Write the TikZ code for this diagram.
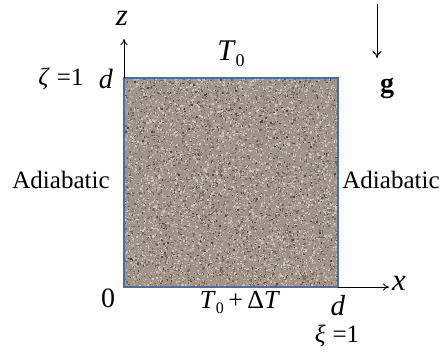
\documentclass[tikz,border=0pt]{standalone}
\usepackage{fontspec}
\setmainfont{Liberation Serif}
\usetikzlibrary{arrows.meta}
\definecolor{granite}{RGB}{160,148,138}
\definecolor{gdark}{RGB}{118,106,97}
\definecolor{gdarker}{RGB}{82,72,64}
\definecolor{glight}{RGB}{204,196,188}
\definecolor{gmid}{RGB}{182,171,161}
\definecolor{edgeblue}{RGB}{74,110,165}
\tikzset{
  lbl/.style={inner sep=0pt, font=\fontsize{25}{27}\selectfont},
  axisarrow/.style={line width=0.8pt, -{To[length=6pt,width=7pt]}},
}
\begin{document}
\begin{tikzpicture}[x=1pt,y=-1pt]
\useasboundingbox (0,0) rectangle (443,353);
\fill[white] (0,0) rectangle (443,353);
% slab
\coordinate (ll) at (124,287);
\coordinate (ur) at (338,78);
\coordinate (ul) at (124,78);
\coordinate (lr) at (338,287);
\fill[granite] (ll) rectangle (ur);
\pgfmathsetseed{7}
\begin{scope}
\clip (ll) rectangle (ur);
\foreach \c/\n in {gdark/2600,glight/2600,gmid/2400,gdarker/350}{
  \foreach \i in {1,...,\n}{
    \pgfmathsetmacro{\px}{124+214*rnd}
    \pgfmathsetmacro{\py}{78+209*rnd}
    \fill[\c] (\px,\py) rectangle ++(1.4,1.4);
  }
}
\end{scope}
\draw[edgeblue, line width=1.5pt] (ll) rectangle (ur);
% axes
\coordinate (ztip) at (124,39);
\coordinate (xtip) at (389,287);
\draw[axisarrow] (ul) -- (ztip);
\draw[axisarrow] (lr) -- (xtip);
\node[lbl, font=\fontsize{31}{33}\selectfont] (zl) at (122,18) {\textit{z}};
\node[lbl, font=\fontsize{31}{33}\selectfont] (xl) at (399,283) {\textit{x}};
% gravity
\coordinate (gtop) at (377,4);
\coordinate (gbot) at (377,58);
\draw[line width=1pt, -{To[length=7pt,width=9pt]}] (gtop) -- (gbot);
\node[lbl, font=\fontsize{28}{30}\selectfont\bfseries] (g) at (387,88) {g};
% labels
\node[lbl, font=\fontsize{30}{32}\selectfont] (T0) at (231,54) {\textit{T}\raisebox{-6pt}{\fontsize{18}{19}\selectfont 0}};
\node[lbl, font=\fontsize{25}{27}\selectfont] (zeta) at (61,79) {\textit{ζ}\;=1};
\node[lbl, font=\fontsize{28}{30}\selectfont] (dz) at (106,79) {\textit{d}};
\node[lbl] (adl) at (61,180) {Adiabatic};
\node[lbl] (adr) at (391,180) {Adiabatic};
\node[lbl, font=\fontsize{28}{30}\selectfont] (zero) at (108,298) {0};
\node[lbl, font=\fontsize{26}{28}\selectfont] (Tb) at (240,302) {\textit{T}\raisebox{-5pt}{\fontsize{16}{17}\selectfont 0}\,+\,Δ\textit{T}};
\node[lbl, font=\fontsize{29}{31}\selectfont] (dx) at (338,306) {\textit{d}};
\node[lbl, font=\fontsize{25}{27}\selectfont] (xi) at (337,336) {\textit{ξ}\;=1};
\end{tikzpicture}
\end{document}
